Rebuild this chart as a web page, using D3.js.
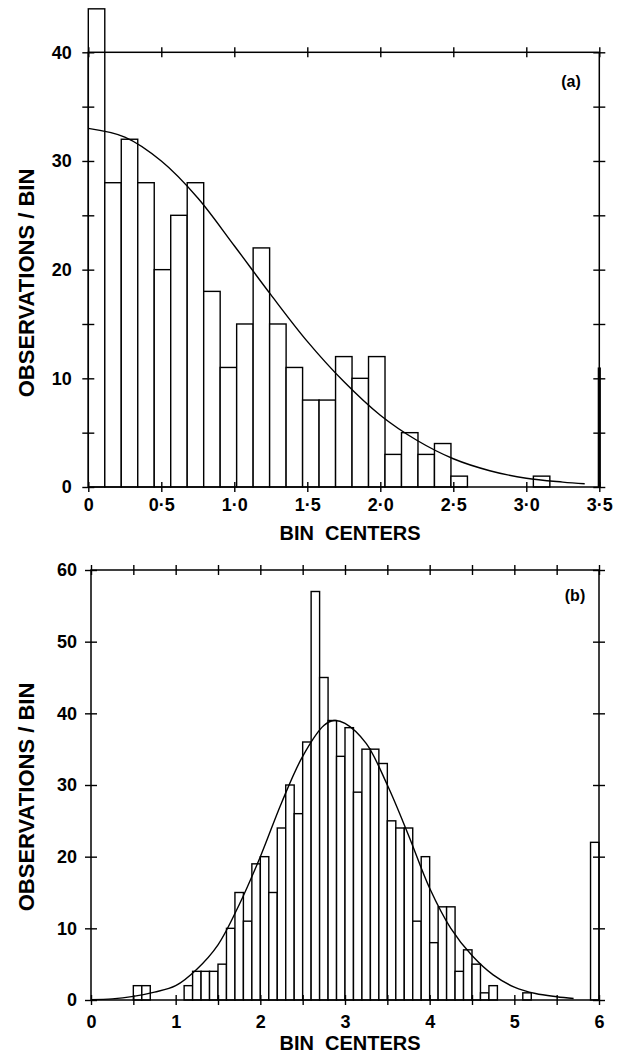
<!DOCTYPE html>
<html>
<head>
<meta charset="utf-8">
<script src="https://cdn.jsdelivr.net/npm/d3@7"></script>
<style>
  html, body { margin: 0; padding: 0; background: #fff; }
  svg { display: block; }
  text { font-family: "Liberation Sans", Arial, Helvetica, sans-serif; font-weight: 700; fill: #000; }
</style>
</head>
<body>
<svg id="chart" width="625" height="1055"></svg>
<script>
// ---------- Panel (a): 31 equal bins spanning 0 – 3.5 ----------
const aDomainX = [0, 3.5];
const aDomainY = [0, 40];
const aBinCount = 31;
const aCounts = [44, 28, 32, 28, 20, 25, 28, 18, 11, 15,
                 22, 15, 11, 8, 8, 12, 10, 12, 3, 5,
                 3, 4, 1, 0, 0, 0, 0, 1, 0, 0, 0];
const aOverflowX = 3.5;
const aOverflowCount = 11;
const aCurveX = [0, 0.25, 0.5, 0.75, 1.0, 1.25, 1.5, 1.75, 2.0, 2.25, 2.5, 2.75, 3.0, 3.25, 3.4];
const aCurveY = [33.0, 32.2, 30.0, 26.6, 22.2, 17.7, 13.4, 9.7, 6.6, 4.3, 2.6, 1.5, 0.8, 0.45, 0.3];
const aXTicks = [0, 0.5, 1.0, 1.5, 2.0, 2.5, 3.0, 3.5];
const aXTickLabels = ["0", "0\u00B75", "1\u00B70", "1\u00B75", "2\u00B70", "2\u00B75", "3\u00B70", "3\u00B75"];
const aYTicks = [0, 5, 10, 15, 20, 25, 30, 35, 40];
const aYTickLabels = [0, 10, 20, 30, 40];

// ---------- Panel (b): bins of width 0.1 spanning 0 – 6 ----------
const bDomainX = [0, 6];
const bDomainY = [0, 60];
const bBinCount = 60;
const bCounts = [0, 0, 0, 0, 0, 2, 2, 0, 0, 0,
                 0, 2, 4, 4, 4, 5, 10, 15, 11, 19,
                 20, 15, 24, 30, 26, 36, 57, 45, 39, 34,
                 38, 29, 35, 35, 33, 25, 24, 24, 11, 20,
                 8, 13, 13, 4, 7, 5, 1, 2, 0, 0,
                 0, 1, 0, 0, 0, 0, 0, 0, 0, 22];
const bCurveX = [0, 0.25, 0.5, 0.75, 1.0, 1.25, 1.5, 1.75, 2.0, 2.25, 2.5, 2.75, 2.87, 3.0, 3.25, 3.5, 3.75, 4.0, 4.25, 4.5, 4.75, 5.0, 5.25, 5.5, 5.7];
const bCurveY = [0.05, 0.15, 0.5, 1.1, 2.0, 4.3, 7.7, 13.3, 20.0, 27.5, 34.0, 38.3, 39.0, 38.6, 35.8, 30.0, 23.0, 15.6, 10.0, 6.2, 3.5, 1.8, 0.9, 0.45, 0.2];
const bXTicks = [0, 0.5, 1, 1.5, 2, 2.5, 3, 3.5, 4, 4.5, 5, 5.5, 6];
const bXTickLabels = ["0", "", "1", "", "2", "", "3", "", "4", "", "5", "", "6"];
const bYTicks = [0, 10, 20, 30, 40, 50, 60];
const bYTickLabels = [0, 10, 20, 30, 40, 50, 60];

const svg = d3.select("#chart");
svg.append("rect").attr("width", 625).attr("height", 1055).attr("fill", "#fff");

function drawPanel(p) {
  const x = d3.scaleLinear().domain(p.domainX).range([p.left, p.right]);
  const y = d3.scaleLinear().domain(p.domainY).range([p.bottom, p.top]);
  const g = svg.append("g");
  const w = (p.domainX[1] - p.domainX[0]) / p.binCount;

  const bins = p.counts.map((c, i) => ({ x0: p.domainX[0] + i * w, x1: p.domainX[0] + (i + 1) * w, c }))
                       .filter(d => d.c > 0);

  g.selectAll("rect.bar").data(bins).join("rect")
    .attr("class", "bar")
    .attr("x", d => x(d.x0))
    .attr("y", d => y(d.c))
    .attr("width", d => x(d.x1) - x(d.x0))
    .attr("height", d => y(0) - y(d.c))
    .attr("fill", "#fff")
    .attr("stroke", "#000")
    .attr("stroke-width", 1.4);

  if (p.overflowCount) {
    g.append("line")
      .attr("x1", x(p.overflowX)).attr("x2", x(p.overflowX))
      .attr("y1", y(0)).attr("y2", y(p.overflowCount))
      .attr("stroke", "#000").attr("stroke-width", 3.2);
  }

  const pts = p.curveX.map((v, i) => [v, p.curveY[i]]);
  g.append("path")
    .attr("d", d3.line().x(d => x(d[0])).y(d => y(d[1])).curve(d3.curveCatmullRom)(pts))
    .attr("fill", "none").attr("stroke", "#000").attr("stroke-width", 1.4);

  // frame
  g.append("rect")
    .attr("x", p.left).attr("y", p.top)
    .attr("width", p.right - p.left).attr("height", p.bottom - p.top)
    .attr("fill", "none").attr("stroke", "#000").attr("stroke-width", 1.5);

  const styleAxis = (sel) => {
    sel.attr("font-family", null).attr("font-size", null);
    sel.select(".domain").remove();
    sel.selectAll(".tick line").attr("stroke", "#000").attr("stroke-width", 1.4);
    sel.selectAll(".tick text").attr("font-size", 18);
  };

  // bottom
  const bottom = g.append("g").attr("transform", `translate(0,${p.bottom})`)
    .call(d3.axisBottom(x).tickValues(p.xTicks).tickFormat((d, i) => p.xTickLabels[i])
      .tickSizeInner(5).tickSizeOuter(0).tickPadding(p.xPad));
  styleAxis(bottom);
  bottom.selectAll(".tick line").attr("y1", -5).attr("y2", 5);

  // top
  const top = g.append("g").attr("transform", `translate(0,${p.top})`)
    .call(d3.axisTop(x).tickValues(p.xTicks).tickFormat("").tickSizeInner(5).tickSizeOuter(0));
  styleAxis(top);
  top.selectAll(".tick line").attr("y1", -5).attr("y2", 5);

  // left
  const left = g.append("g").attr("transform", `translate(${p.left},0)`)
    .call(d3.axisLeft(y).tickValues(p.yTicks)
      .tickFormat(d => p.yTickLabels.includes(d) ? String(d) : "")
      .tickSizeInner(5).tickSizeOuter(0).tickPadding(p.yPad));
  styleAxis(left);
  left.selectAll(".tick line").attr("x1", -6).attr("x2", 6);

  // right
  const right = g.append("g").attr("transform", `translate(${p.right},0)`)
    .call(d3.axisRight(y).tickValues(p.yTicks).tickFormat("").tickSizeInner(5).tickSizeOuter(0));
  styleAxis(right);
  right.selectAll(".tick line").attr("x1", -6).attr("x2", 6);

  // titles
  g.append("text")
    .attr("x", p.xTitleX).attr("y", p.xTitleY)
    .attr("text-anchor", "middle").attr("font-size", 20)
    .style("white-space", "pre")
    .text("BIN  CENTERS");

  g.append("text")
    .attr("transform", `translate(${p.yTitleX},${p.yTitleY}) rotate(-90)`)
    .attr("text-anchor", "middle").attr("font-size", 22)
    .text("OBSERVATIONS / BIN");

  g.append("text")
    .attr("x", p.tagX).attr("y", p.tagY)
    .attr("text-anchor", "middle").attr("font-size", 16)
    .text(p.tag);
}

drawPanel({
  left: 88.3, right: 599.3, top: 52.3, bottom: 487,
  domainX: aDomainX, domainY: aDomainY, binCount: aBinCount, counts: aCounts,
  overflowX: aOverflowX, overflowCount: aOverflowCount,
  curveX: aCurveX, curveY: aCurveY,
  xTicks: aXTicks, xTickLabels: aXTickLabels, yTicks: aYTicks, yTickLabels: aYTickLabels,
  xPad: 6.6, yPad: 11.6,
  xTitleX: 350, xTitleY: 540, yTitleX: 34, yTitleY: 283,
  tag: "(a)", tagX: 571, tagY: 87
});

drawPanel({
  left: 91, right: 599, top: 570, bottom: 1000,
  domainX: bDomainX, domainY: bDomainY, binCount: bBinCount, counts: bCounts,
  curveX: bCurveX, curveY: bCurveY,
  xTicks: bXTicks, xTickLabels: bXTickLabels, yTicks: bYTicks, yTickLabels: bYTickLabels,
  xPad: 10.6, yPad: 9,
  xTitleX: 350, xTitleY: 1050, yTitleX: 34, yTitleY: 797,
  tag: "(b)", tagX: 575, tagY: 601
});
</script>
</body>
</html>
